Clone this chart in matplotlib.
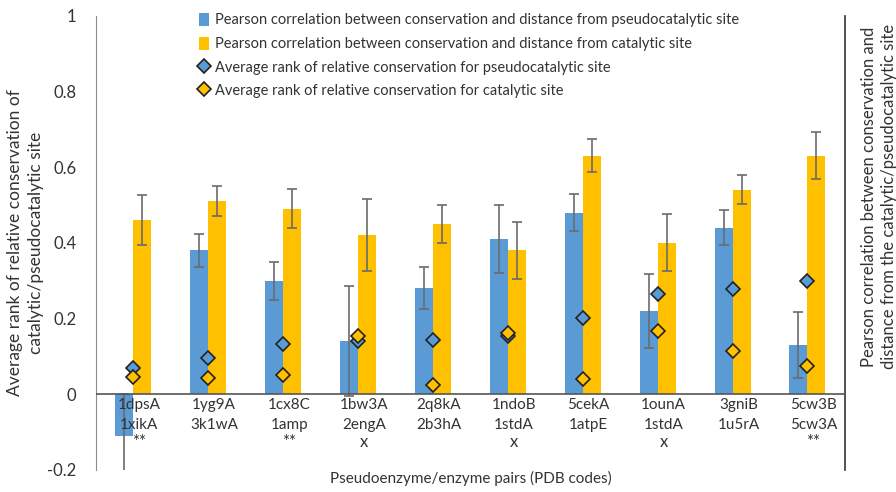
import matplotlib
matplotlib.use("Agg")
import matplotlib.pyplot as plt
import numpy as np

# data
pseudo_codes = ["1dpsA", "1yg9A", "1cx8C", "1bw3A", "2q8kA",
                "1ndoB", "5cekA", "1ounA", "3gniB", "5cw3B"]
enzyme_codes = ["1xikA", "3k1wA", "1amp", "2engA", "2b3hA",
                "1stdA", "1atpE", "1stdA", "1u5rA", "5cw3A"]
marks = ["**", "", "**", "x", "", "x", "", "x", "", "**"]

corr_pseudo = [-0.11, 0.38, 0.30, 0.14, 0.28, 0.41, 0.48, 0.22, 0.44, 0.13]
corr_pseudo_err = [0.11, 0.044, 0.05, 0.146, 0.056, 0.091, 0.05, 0.098, 0.047, 0.087]
corr_cat = [0.46, 0.51, 0.49, 0.42, 0.45, 0.38, 0.63, 0.40, 0.54, 0.63]
corr_cat_err = [0.067, 0.04, 0.052, 0.095, 0.051, 0.075, 0.043, 0.075, 0.038, 0.062]
rank_pseudo = [0.07, 0.096, 0.132, 0.14, 0.142, 0.154, 0.20, 0.266, 0.277, 0.298]
rank_cat = [0.046, 0.042, 0.05, 0.155, 0.024, 0.161, 0.039, 0.166, 0.115, 0.074]

blue = "#5B9BD5"
orange = "#FFC000"
txt = "#333333"

plt.rcParams['font.family'] = ['Lato', 'DejaVu Sans']

fig = plt.figure(figsize=(8.96, 4.92), dpi=100)
ax = fig.add_axes([0.107, 0.045, 0.836, 0.923])

x = np.arange(len(pseudo_codes))
w = 0.24
ekw = dict(ecolor="#6b6b6b", elinewidth=1.2, capsize=3.5, capthick=1.2)

b1 = ax.bar(x - w / 2, corr_pseudo, w, color=blue, yerr=corr_pseudo_err,
            error_kw=ekw, zorder=2,
            label="Pearson correlation between conservation and distance from pseudocatalytic site")
b2 = ax.bar(x + w / 2, corr_cat, w, color=orange, yerr=corr_cat_err,
            error_kw=ekw, zorder=2,
            label="Pearson correlation between conservation and distance from catalytic site")
m1, = ax.plot(x, rank_pseudo, ls="none", marker="D", ms=7, mfc=blue, mec="#222222",
              mew=1.2, zorder=4,
              label="Average rank of relative conservation for pseudocatalytic site")
m2, = ax.plot(x, rank_cat, ls="none", marker="D", ms=7, mfc=orange, mec="#222222",
              mew=1.2, zorder=4,
              label="Average rank of relative conservation for catalytic site")

ax.axhline(0, color="#555555", lw=1.2, zorder=3)

ax.set_xlim(-0.5, len(pseudo_codes) - 0.5)
ax.set_ylim(-0.2, 1.0)
ax.set_yticks([-0.2, 0, 0.2, 0.4, 0.6, 0.8, 1.0])
ax.set_yticklabels(["-0.2", "0", "0.2", "0.4", "0.6", "0.8", "1"])
ax.tick_params(axis="y", length=0, pad=14, labelsize=12, labelcolor=txt)
ax.set_xticks([])

for s in ["top", "bottom"]:
    ax.spines[s].set_visible(False)
ax.spines["left"].set_color("#8c8c8c")
ax.spines["right"].set_color("#333333")
ax.spines["right"].set_linewidth(1.2)

# pair labels sit inside the plot, just under zero
for i in range(len(pseudo_codes)):
    ax.text(x[i] + 0.08, -0.01, pseudo_codes[i], ha="center", va="top",
            fontsize=11, color=txt, zorder=5)
    ax.text(x[i] + 0.08, -0.062, enzyme_codes[i], ha="center", va="top",
            fontsize=11, color=txt, zorder=5)
    if marks[i]:
        ax.text(x[i] + 0.08, -0.105, marks[i], ha="center", va="top",
                fontsize=12, color=txt, zorder=5)

ax.set_ylabel("Average rank of relative conservation of\ncatalytic/pseudocatalytic site",
              fontsize=12.5, color=txt, labelpad=2, linespacing=1.45)

# right-hand axis title (the secondary axis carries no ticks)
fig.text(0.981, 0.60,
         "Pearson correlation between conservation and\ndistance from the catalytic/pseudocatalytic site",
         rotation=90, ha="center", va="center", fontsize=12, color=txt,
         linespacing=1.3)

fig.text(0.525, 0.012, "Pseudoenzyme/enzyme pairs (PDB codes)", ha="center",
         va="bottom", fontsize=11, color=txt)

ax.legend([b1, b2, m1, m2], [h.get_label() for h in [b1, b2, m1, m2]],
          loc="upper left", bbox_to_anchor=(0.12, 1.035), frameon=False,
          fontsize=10.5, handlelength=0.7, handleheight=1.0, handletextpad=0.4,
          labelspacing=0.62, labelcolor=txt)

fig.savefig("out.png", dpi=100)
